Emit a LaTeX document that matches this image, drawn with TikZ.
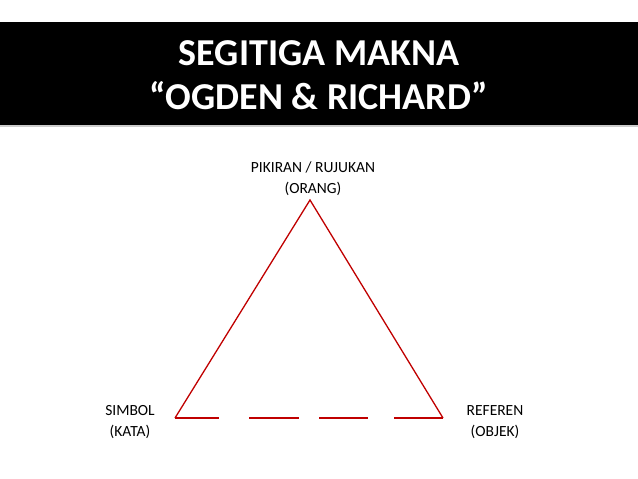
\documentclass[tikz,border=0pt]{standalone}
\usepackage{fontspec}
\setmainfont{Carlito}
\usepackage{xcolor}
\usetikzlibrary{positioning}
\definecolor{segired}{HTML}{C00000}

\begin{document}
\begin{tikzpicture}[x=1pt,y=-1pt]
\tikzset{label/.style={font=\fontsize{15.5}{21}\selectfont, align=center}}
\useasboundingbox (0,0) rectangle (638,479);
\fill[gray!40] (0,24) rectangle (638,127);
\fill[black] (0,22) rectangle (638,125);
\node[white, font=\fontsize{38}{44}\selectfont\bfseries, align=center] (judul) at (319,75) {SEGITIGA MAKNA\\``OGDEN \& RICHARD''};
\coordinate (pikiran) at (310,200);
\coordinate (simbol) at (175,418);
\coordinate (referen) at (443,418);
\draw[segired, line width=1.3pt] (simbol) -- (pikiran) -- (referen);
\draw[segired, line width=1.3pt, dash pattern=on 44pt off 30pt on 50pt off 20pt on 49pt off 26pt on 49pt off 100pt] (simbol) -- (referen);
\node[label] (pikiranlbl) at (313,179) {PIKIRAN / RUJUKAN\\(ORANG)};
\node[label] (simbollbl) at (130,422) {SIMBOL\\(KATA)};
\node[label] (referenlbl) at (495,422) {REFEREN\\(OBJEK)};
\end{tikzpicture}
\end{document}
